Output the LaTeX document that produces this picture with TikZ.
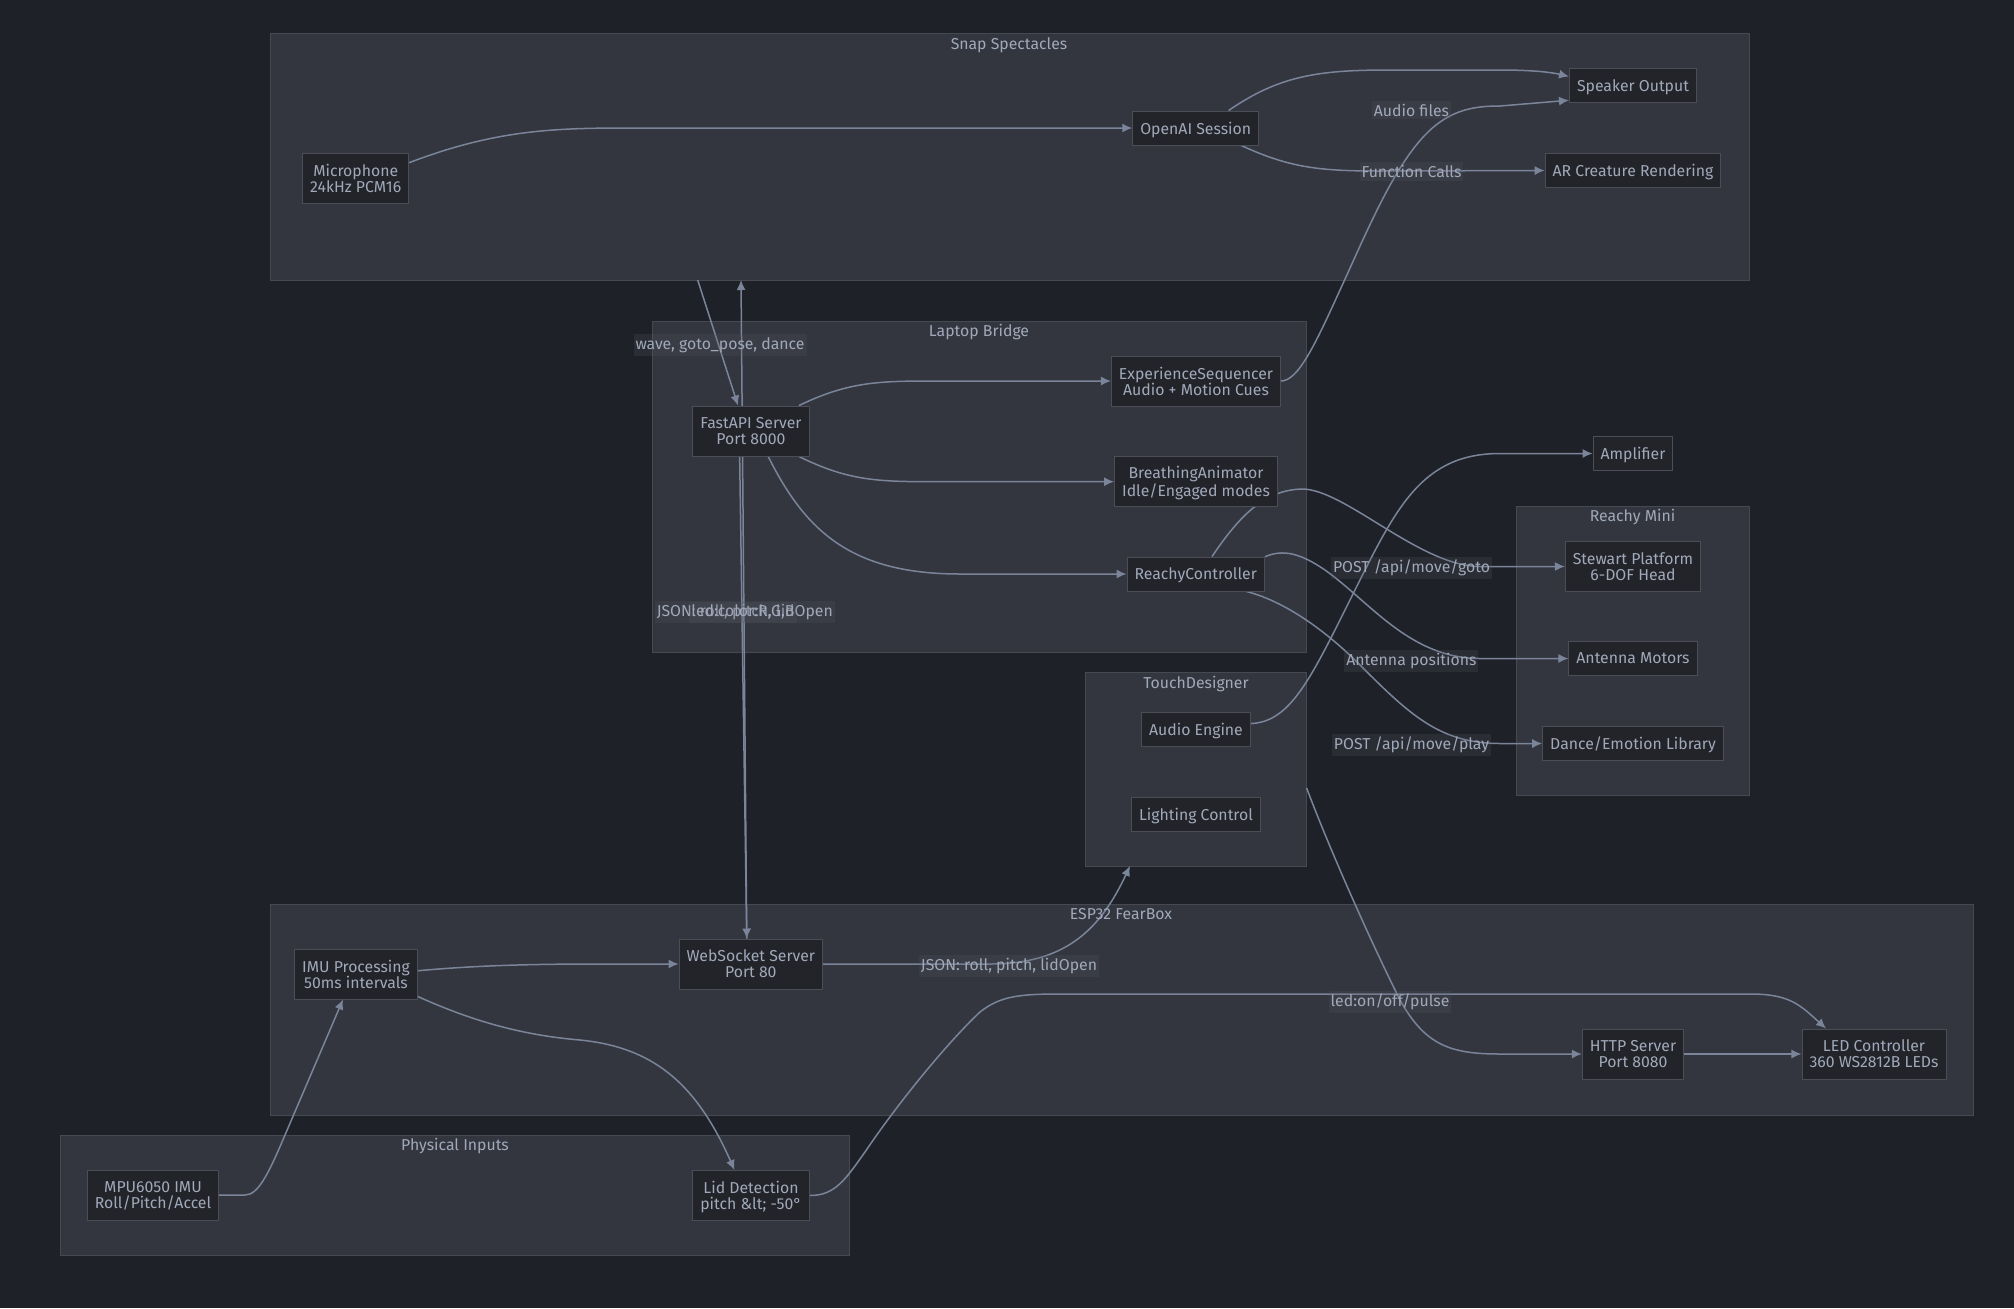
\documentclass[tikz,border=0pt]{standalone}
\usepackage{fontspec}
\setmainfont{Fira Sans}
\usetikzlibrary{arrows.meta}
\definecolor{bgdark}{HTML}{1F2128}
\definecolor{clfill}{HTML}{33363F}
\definecolor{clline}{HTML}{464952}
\definecolor{nodefill}{HTML}{232429}
\definecolor{nodeline}{HTML}{4B4E57}
\definecolor{txtcol}{HTML}{A0A9BA}
\definecolor{edgecol}{HTML}{7A859A}
\definecolor{lblfill}{HTML}{5A5D66}
\pgfdeclarelayer{back}
\pgfdeclarelayer{wires}
\pgfsetlayers{back,wires,main}
\tikzset{
  box/.style={draw=nodeline,fill=nodefill,text=txtcol,align=center,line width=0.5pt,
    inner xsep=3.75pt,inner ysep=0pt,minimum height=17pt,text depth=0pt},
  tall/.style={minimum height=25pt},
  cluster/.style={draw=clline,fill=clfill,line width=0.5pt},
  title/.style={text=txtcol,inner sep=0pt},
  wire/.style={draw=edgecol,line width=0.75pt,->},
  lbl/.style={text=txtcol,fill=lblfill,fill opacity=0.2,text opacity=1,inner xsep=1pt,inner ysep=1.5pt},
}
\begin{document}
\begin{tikzpicture}[>={Latex[length=5pt,width=4.5pt]},line join=bevel,x=0.5pt,y=-0.5pt,
  font=\fontsize{7.9}{8}\selectfont]
%% subgraphs
\begin{pgfonlayer}{back}
  \fill [bgdark] (0,0) rectangle (2014,1308);
  \draw [cluster] (270,33) rectangle (1749,280);
  \draw [cluster] (652,321) rectangle (1306.6,652);
  \draw [cluster] (1085.6,672) rectangle (1306.6,866);
  \draw [cluster] (1516,506) rectangle (1749.5,795);
  \draw [cluster] (270,904) rectangle (1973.5,1115);
  \draw [cluster] (60.5,1135) rectangle (849,1255.7);
\end{pgfonlayer}
  \node (title_snap) at (1009,45) [title] {Snap Spectacles};
  \node (title_laptop) at (979,332) [title] {Laptop Bridge};
  \node (title_touch) at (1196,684) [title] {TouchDesigner};
  \node (title_reachy) at (1632.5,517) [title] {Reachy Mini};
  \node (title_esp) at (1121,914) [title] {ESP32 FearBox};
  \node (title_phys) at (455,1146) [title] {Physical Inputs};

  \coordinate (snap_wave) at (697.7,280);
  \coordinate (snap_json) at (741,280);
  \coordinate (touch_in) at (1130,866);
  \coordinate (touch_out) at (1306.6,788);
%% nodes
  \node (node_mic) at (355.7,178) [box,tall] {Microphone\\24kHz PCM16};
  \node (node_openai) at (1195.7,128) [box] {OpenAI Session};
  \node (node_speaker) at (1633,85.5) [box] {Speaker Output};
  \node (node_ar) at (1633,170.5) [box] {AR Creature Rendering};

  \node (node_fastapi) at (751,431) [box,tall] {FastAPI Server\\Port 8000};
  \node (node_seq) at (1196,381) [box,tall] {ExperienceSequencer\\Audio + Motion Cues};
  \node (node_breath) at (1196,481.7) [box,tall] {BreathingAnimator\\Idle/Engaged modes};
  \node (node_reachy) at (1195.7,574) [box] {ReachyController};

  \node (node_amp) at (1633,453.5) [box] {Amplifier};
  \node (node_stewart) at (1633,566.5) [box,tall] {Stewart Platform\\6-DOF Head};
  \node (node_antenna) at (1633,658.5) [box] {Antenna Motors};
  \node (node_dance) at (1633,743.5) [box] {Dance/Emotion Library};

  \node (node_audio) at (1196,729.3) [box] {Audio Engine};
  \node (node_light) at (1196,814) [box] {Lighting Control};

  \node (node_imu) at (356,974) [box,tall] {IMU Processing\\50ms intervals};
  \node (node_ws) at (750.8,964) [box,tall] {WebSocket Server\\Port 80};
  \node (node_http) at (1633,1054) [box,tall] {HTTP Server\\Port 8080};
  \node (node_led) at (1874,1054) [box,tall] {LED Controller\\360 WS2812B LEDs};

  \node (node_mpu) at (153,1195) [box,tall] {MPU6050 IMU\\Roll/Pitch/Accel};
  \node (node_lid) at (751,1195.5) [box,tall] {Lid Detection\\pitch \&lt; -50°};
%% connectors
\begin{pgfonlayer}{wires}
  \draw [wire] (node_mic.16) .. controls (500,128) and (560,128) .. (640,128) -- (node_openai.west);
  \draw [wire] (node_openai.28) .. controls (1280,75) and (1320,70) .. (1390,70) -- (1500,70)
    .. controls (1530,70) and (1550,72) .. (node_speaker.172);
  \draw [wire] (node_openai.-21) .. controls (1290,168) and (1320,171) .. (1380,171) -- (node_ar.west);
  \draw [wire] (node_seq.east) .. controls (1298,381) and (1315,345) .. (1340,290)
    .. controls (1370,225) and (1400,150) .. (1440,122)
    .. controls (1460,108) and (1480,106) .. (1500,106) -- (node_speaker.193);
  \draw [wire] (snap_wave) -- (node_fastapi.117);
  \draw [wire] (node_ws.99) -- (snap_json);
  \draw [wire] (node_fastapi.-114) -- (node_ws.99);
  \draw [wire] (node_fastapi.28) .. controls (850,381) and (880,381) .. (940,381) -- (node_seq.west);
  \draw [wire] (node_fastapi.-28) .. controls (850,481.7) and (880,481.7) .. (940,481.7) -- (node_breath.west);
  \draw [wire] (node_fastapi.-56) .. controls (805,530) and (850,574) .. (960,574) -- (node_reachy.west);
  \draw [wire] (node_reachy.47) .. controls (1240,515) and (1265,490) .. (1302,489)
    .. controls (1345,489) and (1420,566.5) .. (1480,566.5) -- (node_stewart.west);
  \draw [wire] (node_reachy.14) .. controls (1283,549) and (1300,553) .. (1325,570)
    .. controls (1370,602) and (1410,658.5) .. (1480,658.5) -- (node_antenna.west);
  \draw [wire] (node_reachy.-19) .. controls (1280,600) and (1320,625) .. (1360,665)
    .. controls (1410,715) and (1440,743.5) .. (1500,743.5) -- (node_dance.west);
  \draw [wire] (node_audio.6) .. controls (1290,722) and (1310,680) .. (1350,600)
    .. controls (1395,510) and (1420,453.5) .. (1500,453.5) -- (node_amp.west);
  \draw [wire] (touch_out) .. controls (1330,850) and (1370,940) .. (1400,1000)
    .. controls (1425,1045) and (1450,1054) .. (1500,1054) -- (node_http.west);
  \draw [wire] (node_http) -- (node_led);
  \draw [wire] (node_lid.east) .. controls (835,1195.5) and (845,1180) .. (865,1152)
    .. controls (900,1100) and (950,1040) .. (980,1012)
    .. controls (1000,996) and (1020,994) .. (1060,994) -- (1750,994)
    .. controls (1790,994) and (1800,1005) .. (node_led.152);
  \draw [wire] (node_ws.east) -- (990,964) .. controls (1065,964) and (1100,930) .. (touch_in);
  \draw [wire] (node_imu.3) .. controls (480,965) and (540,964) .. (600,964) -- (node_ws.west);
  \draw [wire] (node_imu.-20) .. controls (470,1020) and (520,1035) .. (580,1040)
    .. controls (650,1047) and (695,1080) .. (node_lid.123);
  \draw [wire] (node_mpu.east) -- (245,1195) .. controls (258,1195) and (268,1175) .. (285,1135)
    -- (node_imu.-117);
\end{pgfonlayer}
%% edge labels
  \node (lbl_audio) at (1411.5,110) [lbl] {Audio files};
  \node (lbl_func) at (1411.5,171.5) [lbl] {Function Calls};
  \node (lbl_wave) at (720,345) [lbl] {wave, goto\_pose, dance};
  \node (lbl_json) at (744.8,612.3) [lbl] {JSON: roll, pitch, lidOpen};
  \node (lbl_color) at (743,612.3) [lbl] {led:color:R,G,B};
  \node (lbl_goto) at (1411.5,567.7) [lbl] {POST /api/move/goto};
  \node (lbl_ant) at (1411.4,660.7) [lbl] {Antenna positions};
  \node (lbl_play) at (1411.5,745) [lbl] {POST /api/move/play};
  \node (lbl_touch) at (1009,966) [lbl] {JSON: roll, pitch, lidOpen};
  \node (lbl_ledon) at (1390,1001.7) [lbl] {led:on/off/pulse};
%
\end{tikzpicture}
\end{document}
